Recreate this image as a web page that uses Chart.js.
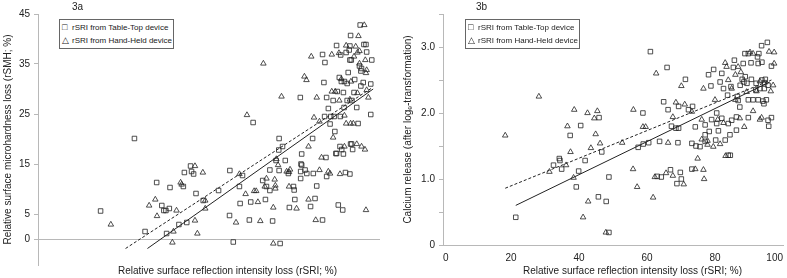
<!DOCTYPE html>
<html>
<head>
<meta charset="utf-8">
<script src="https://cdn.jsdelivr.net/npm/chart.js@4"></script>
<style>
  body { margin: 0; background: #fff; overflow: hidden; font-family: "Liberation Sans", Arial, sans-serif; color: #222; }
  .wrap { position: absolute; top: 0; }
  .txt { position: absolute; white-space: nowrap; font-size: 10px; line-height: 12px; }
  .legend { position: absolute; border: 1px solid #666; background: #fff; font-size: 8px; line-height: 12px; padding: 1px 2px; width: 109px; white-space: nowrap; overflow: hidden; }
  .legend span { display: inline-block; width: 10px; font-size: 9px; }
</style>
</head>
<body>
<div class="wrap" style="left:0"><canvas id="chartA" width="400" height="278"></canvas></div>
<div class="wrap" style="left:400px"><canvas id="chartB" width="387" height="278"></canvas></div>

<div class="txt" style="left:72px; top:1px;">3a</div>
<div class="txt" style="left:476px; top:1px;">3b</div>
<div class="legend" style="left:59px; top:19px;"><div><span>□</span>rSRI from Table-Top device</div><div><span>△</span>rSRI from Hand-Held device</div></div>
<div class="legend" style="left:465px; top:19px;"><div><span>□</span>rSRI from Table-Top device</div><div><span>△</span>rSRI from Hand-Held device</div></div>
<div class="txt" style="left:118px; top:265px;">Relative surface reflection intensity loss (rSRI; %)</div>
<div class="txt" style="left:523px; top:265px;">Relative surface reflection intensity loss (rSRI; %)</div>

<script>
// 3a: rSRI vs rSMH
const aSquareX = [18.3,28.2,31.3,34.7,36.2,36.8,37.4,38.4,38.6,37.6,41.2,42.8,42.5,43.5,44.6,44.9,45.5,46.2,48.3,52.8,56.1,56,57.1,58.9,59.1,59.8,61.8,62.2,62.9,65.7,66.5,66.8,67.8,67.8,68.6,69.6,70.5,71.5,70.4,70.5,70.8,72.3,73.2,73.5,
  77.1,77.1,76.8,78.1,76.8,78.6,80.5,74.7,74.9,75.1,79.7,81,81.5,84.2,84.4,83.2,87.3,88.8,89.3,91.2,89.1,91.7,92,
  94.2,91.4,87.3,91.2,95.3,95.9,83.2,83.9,88.5,90.1,91,96.1,91.2,91.6,97.6,94,94.6,94.4,90.7,83.6,88.1,88.7,89.6,90.4,92.6,95.1,97.3,94.4,76.7,84.4,87.5,89.3,92.4,86.3,90.4,91.8,93.2,84.9,89.5,83.8,85.6,86.6,88.4,85.4,93.6,97.3,86.8,80.3,88.3,91.4,87.1,76.9,89.9,87.8];
const aSquareY = [5.6,20.1,1.5,11.3,6.7,5.7,5.7,6.1,10.3,1.1,2.9,13.3,10.5,3.3,14.6,13.5,13,9.1,7.7,9.7,13.7,4.7,-0.6,10.5,7.1,12.7,3.8,7.4,23.3,11.7,7.9,10.5,13.8,9.7,3.6,15.7,20.1,18.5,17.8,13.7,-0.9,15.7,13.1,6.3,
  17,14.8,13.5,13.8,12.1,13.1,13.1,10.5,9.8,7.9,6.5,8.1,10.6,16.3,12.5,3.8,17.1,17.9,17,13,5.8,19,17.9,
  42.8,40.7,38.7,38.6,38.9,38.9,36.9,35.3,36.8,37.3,37.8,37.4,35.8,35.8,35.8,34.6,34.1,33.6,33.3,31.3,32.3,31.5,31.5,31.1,31.9,31.3,31,30.6,28.3,28.3,29.5,29.3,29.3,27.7,27.7,27.7,26.3,26.1,26.3,24.5,24.5,24.5,24.5,23,23.1,24.9,21.5,20.1,18.5,19,17.1,15,13.3,6.8];
const aTriangleX = [21.3,32.5,34.3,34.8,39.6,39.3,40.5,41.7,42,45.9,45.9,46.6,48.2,48.9,48.9,57.9,58.9,60.7,61.1,63.2,63.8,64.3,65,66.8,66.3,68.8,68.8,69.2,69.4,69.4,69.7,70.2,71.2,72.7,73.4,
  79.1,82.9,82.3,84.9,85.4,88.3,79.1,75.6,81.2,95.9,93.2,94.6,95.6,89.6,
  95.4,93.7,90.1,92.9,94,79.9,85.9,88,92.4,93.4,95.7,94,96.1,95.9,77.9,78.5,88.7,91.5,96.1,81.5,85.9,86.9,88.1,91.2,93.4,96.6,80.7,82.3,89.6,90.1,91.4,92.2,86.3,73.7,73.4,65.9];
const aTriangleY = [2.9,6.7,7.9,4.6,1.5,-0.7,5.7,11.3,10.9,14.6,3.7,1.1,13.3,7.7,6.1,3.3,13,9,24.8,9.6,9.6,7.4,3.6,12.1,10.5,-0.9,6.3,11.9,10.7,10.1,16,14.8,28.5,13.5,10.5,
  18.5,16.3,13.8,13.5,13.1,13,7.9,6.1,3.8,5.8,19,18.5,17.9,18.5,
  42.8,40.6,38.7,38.5,37.6,36.5,36.9,37.2,36.5,37.3,35.8,35.1,33.8,33.2,32.5,31.8,32,31.5,29.8,28.3,29.5,29.5,27.7,27.9,29.2,28.3,24.3,23.5,24.7,23.1,23.1,23.1,20.3,13.9,13.4,35.1];
const aFitX = [25.6, 97.6];
const aFitDashedY = [-1.9, 30.2];
const aSolidX = [32, 98];
const aSolidY = [-1.9, 30];
const aYTicks = [0, 5, 15, 25, 35, 45];

// 3b: rSRI vs calcium release
const bSquareX = [21.4,45.9,40.5,37.4,46.7,34.2,34.4,32.5,34.9,41.8,39.9,39.2,48.8,45.7,48,48.8,57.4,
  58.9,60.5,63.7,66.9,63,64.2,69.8,70.1,68.8,73.2,69.1,73.2,74.4,75.6,77.1,83.9,84.5,
  61,65.9,71.3,64.9,66.2,58.8,72.2,73.4,69.3,67.2,68.5,69.3,74.2,77.1,79,80.5,82,80.5,77.1,78.3,81,80.2,83,83.9,84.9,86.3,84.4,86.3,95.6,96.6,95.8,89.8,
  81.5,78.8,78.1,79.6,82,85.4,85.7,83.7,86.6,86.8,87.3,88,88.9,88.5,89.4,90.7,92.1,93.8,94.6,94.8,89.8,91.2,92.7,94.1,95.1,94.4,90.6,92.5,92.9,93.7,95.4,88.8,89.8,92.7,93.8,96.6,88.3,92,93.2,94.5,95.6,82.5,84.7,87.4];
const bSquareY = [0.42,1.93,1.81,1.66,1.41,1.31,1.28,1.21,1.15,1.28,1.12,0.88,1.03,0.73,0.66,0.19,1.48,
  1.53,1.55,1.57,1.14,1.04,1.03,1.1,1.0,0.93,1.15,1.55,1.54,1.5,1.49,1.57,1.36,1.36,
  2.93,2.69,2.51,2.17,2.05,2.0,2.05,2.1,2.1,1.8,1.77,1.77,1.79,1.82,1.9,1.84,1.92,2.0,1.67,1.72,1.73,1.59,1.59,1.84,1.89,1.94,1.67,1.74,1.89,1.93,1.8,1.93,
  2.47,2.41,2.58,2.66,2.6,2.69,2.8,2.27,2.25,2.19,2.09,2.51,2.55,2.47,2.45,2.51,2.45,2.5,2.46,2.51,2.2,2.2,2.2,2.18,2.2,2.14,2.76,2.85,2.9,3.02,3.07,2.9,2.9,2.75,2.77,2.71,2.75,2.35,2.37,2.37,2.42,2.37,2.4,2.42];
const bTriangleX = [28.2,18.3,38.6,42.5,45.4,44.5,36.6,44.9,46.2,37.5,43.5,52.7,36.2,31.3,38.4,42.7,41.2,47.9,56,55.9,57.1,
  61.8,62.3,65.6,67.6,70.8,74.2,74.9,76.6,76.8,77.8,79.5,81.5,83.1,66.2,
  62.7,70.1,76.6,80,84.9,83,83.4,83.9,86,87.6,86.8,90.3,91.2,95.9,97.4,97.4,97.1,93.2,92.2,89.3,96.4,68.5,71.1,67.6,76.1,73.2,80.8,86,91.2,93.2,58.8,59.6,82.5,87.3,88.6,93.7,76.1,77.8];
const bTriangleY = [2.25,1.66,2.05,2.0,2.03,1.92,1.8,1.68,1.54,1.41,1.47,1.55,1.21,1.11,1.02,0.66,0.42,0.19,2.05,1.15,0.88,
  0.72,1.03,1.09,1.05,0.92,1.15,1.31,1.14,1.0,1.52,1.49,1.53,1.35,1.55,
  2.6,2.41,2.37,2.2,2.37,2.76,2.7,2.5,2.58,2.62,2.7,2.92,2.9,2.93,2.92,2.75,2.42,2.48,2.33,2.32,2.33,2.16,2.13,1.94,1.9,2.02,1.9,2.2,2.03,1.9,1.79,1.79,1.85,1.92,1.79,1.93,1.6,1.58];
const bDashedX = [18.3, 96.6];
const bDashedY = [0.86, 2.5];
const bSolidX = [21.4, 96.1];
const bSolidY = [0.6, 2.47];

const pts = (xs, ys) => xs.map((x, i) => ({ x: x, y: ys[i] }));
const ink = '#222';
const axisGray = '#b8b8b8';
const font = { family: '"Liberation Sans", Arial, sans-serif', size: 10 };

Chart.defaults.color = ink;
Chart.defaults.font.family = font.family;
Chart.defaults.font.size = 10;

function markSet(data, style) {
  return { type: 'scatter', data: data, pointStyle: style, pointRadius: 3.2, pointHoverRadius: 3.2,
    backgroundColor: 'rgba(0,0,0,0)', borderColor: ink, borderWidth: 0.8 };
}
function fitLine(data, dashed) {
  return { type: 'line', data: data, borderColor: ink, borderWidth: 1, pointRadius: 0,
    borderDash: dashed ? [3, 2] : [], fill: false, tension: 0 };
}

new Chart(document.getElementById('chartA'), {
  type: 'scatter',
  data: {
    datasets: [
      markSet(pts(aSquareX, aSquareY), 'rect'),
      markSet(pts(aTriangleX, aTriangleY), 'triangle'),
      fitLine(pts(aFitX, aFitDashedY), true),
      fitLine(pts(aSolidX, aSolidY), false)
    ]
  },
  options: {
    responsive: false,
    animation: false,
    layout: { padding: { top: 14, left: 0, right: 20, bottom: 0 } },
    plugins: { legend: { display: false }, tooltip: { enabled: false } },
    scales: {
      x: {
        type: 'linear', min: 0, max: 100,
        border: { display: false },
        grid: { display: false, drawTicks: false },
        ticks: { stepSize: 20, align: 'inner', padding: -12, maxRotation: 0,
          callback: v => v === 0 ? '' : String(v) },
        afterFit: s => { s.height = 13; s.paddingLeft = 0; s.paddingRight = 0; }
      },
      y: {
        type: 'linear', min: -5.2, max: 45,
        border: { display: true, color: axisGray },
        grid: { drawOnChartArea: true, color: c => c.tick && c.tick.value === 0 ? axisGray : 'rgba(0,0,0,0)',
          tickColor: axisGray, tickLength: 4 },
        afterBuildTicks: s => { s.ticks = aYTicks.map(v => ({ value: v })); },
        ticks: { padding: 4, callback: v => String(v) },
        title: { display: true, text: 'Relative surface microhardness loss (rSMH; %)', padding: { top: 2, bottom: 0 } },
        afterFit: s => { s.width = 38; }
      }
    }
  }
});

new Chart(document.getElementById('chartB'), {
  type: 'scatter',
  data: {
    datasets: [
      markSet(pts(bSquareX, bSquareY), 'rect'),
      markSet(pts(bTriangleX, bTriangleY), 'triangle'),
      fitLine(pts(bDashedX, bDashedY), true),
      fitLine(pts(bSolidX, bSolidY), false)
    ]
  },
  options: {
    responsive: false,
    animation: false,
    layout: { padding: { top: 14, left: 0, right: 2, bottom: 0 } },
    plugins: { legend: { display: false }, tooltip: { enabled: false } },
    scales: {
      x: {
        type: 'linear', min: 0, max: 100,
        border: { display: true, color: axisGray },
        grid: { display: false, drawTicks: false },
        ticks: { stepSize: 20, align: 'inner', padding: 7, maxRotation: 0 },
        afterFit: s => { s.height = 33; s.paddingLeft = 0; s.paddingRight = 0; }
      },
      y: {
        type: 'linear', min: 0, max: 3.5,
        border: { display: true, color: axisGray },
        grid: { drawOnChartArea: false, tickColor: axisGray, tickLength: 4 },
        ticks: { stepSize: 0.5, padding: 4,
          callback: v => v === 0 ? '0' : (Math.abs(v % 1) < 1e-9 ? v.toFixed(1) : '') },
        title: { display: true, text: 'Calcium release (after logₑ-transformation)', padding: { top: 2, bottom: 0 } },
        afterFit: s => { s.width = 43; }
      }
    }
  }
});
</script>
</body>
</html>
